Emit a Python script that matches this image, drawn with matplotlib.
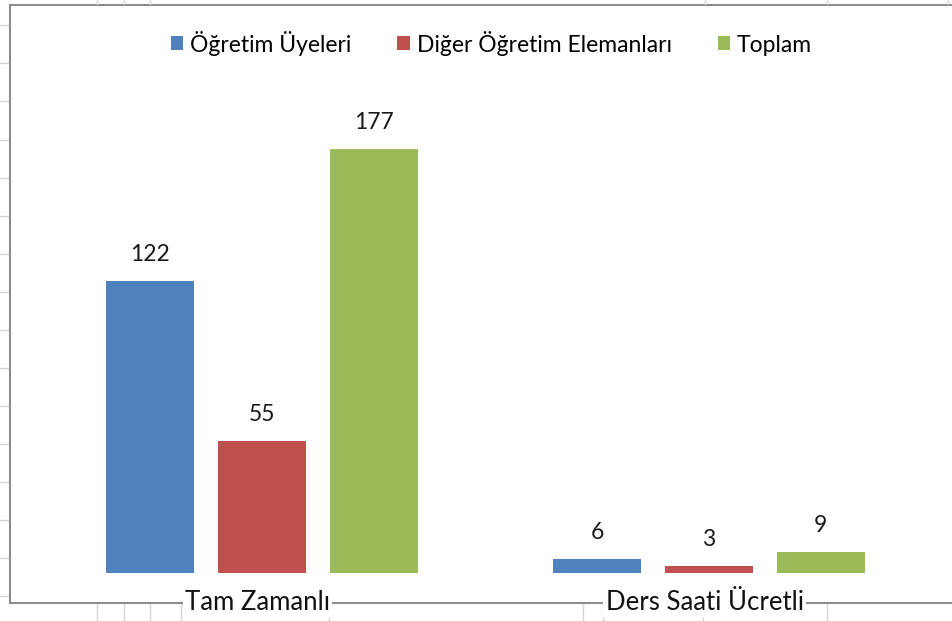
import numpy as np
import matplotlib.pyplot as plt
from matplotlib.lines import Line2D

plt.rcParams['font.family'] = ['Lato', 'DejaVu Sans']

categories = ['Tam Zamanlı', 'Ders Saati Ücretli']
series = ['Öğretim Üyeleri', 'Diğer Öğretim Elemanları', 'Toplam']
ogretim_uyeleri = [122, 6]
diger_elemanlar = [55, 3]
toplam = [177, 9]
colors = ['#4F81BD', '#C0504D', '#9BBB59']

W, H = 952, 621
fig = plt.figure(figsize=(W / 100, H / 100), dpi=100)
ax = fig.add_axes([10 / W, 18 / H, 942 / W, 598 / H])

x = np.arange(len(categories))
width = 0.197
step = 0.25
for i, (name, vals) in enumerate(zip(series, [ogretim_uyeleri, diger_elemanlar, toplam])):
    pos = x + (i - 1) * step
    ax.bar(pos, vals, width, color=colors[i], label=name)
    for px, v in zip(pos, vals):
        ax.annotate(str(v), (px, v), xytext=(0, 19), textcoords='offset points',
                    ha='center', va='center', fontsize=16.5, color='#1a1a1a')

ax.set_xlim(-0.5638, 1.5436)
ax.set_ylim(-12.5, 237.2)
ax.set_xticks([])
ax.set_yticks([])
for s in ['left', 'top', 'bottom']:
    ax.spines[s].set_color('#8c8c8c')
    ax.spines[s].set_linewidth(1.5)
ax.spines['right'].set_visible(False)

# faint spreadsheet gridlines around the chart
grid_c = '#d4d4d4'
for yy in [25, 63, 101, 140, 178, 216, 254, 292, 330, 368, 406, 444, 482, 520, 558, 596]:
    fig.add_artist(Line2D([0, 8 / W], [1 - yy / H, 1 - yy / H], color=grid_c, lw=1))
for xx in [97, 124, 150, 705, 827, 948]:
    fig.add_artist(Line2D([xx / W, xx / W], [1, 1 - 4 / H], color=grid_c, lw=1))
for xx in [97, 124, 150, 583, 703]:
    fig.add_artist(Line2D([xx / W, xx / W], [0, 17 / H], color=grid_c, lw=1, zorder=0))
for xx in [181, 329, 603, 827]:
    fig.add_artist(Line2D([xx / W, xx / W], [0, 41 / H], color=grid_c, lw=1, zorder=0))

# category labels sit on the bottom border
for xc, lab in zip(x, categories):
    ax.text(xc - 0.01, -12.5, lab, ha='center', va='center', fontsize=18.5,
            color='#111111', bbox=dict(facecolor='white', edgecolor='none', pad=1.5),
            clip_on=False, zorder=5)

ax.legend(loc='center', bbox_to_anchor=(0.511, 1 - 38 / 598), ncol=3, frameon=False,
          fontsize=16.5, handlelength=0.55, handleheight=0.55, handletextpad=0.3,
          columnspacing=2.0, borderaxespad=0)

fig.savefig('out.png', dpi=100)
